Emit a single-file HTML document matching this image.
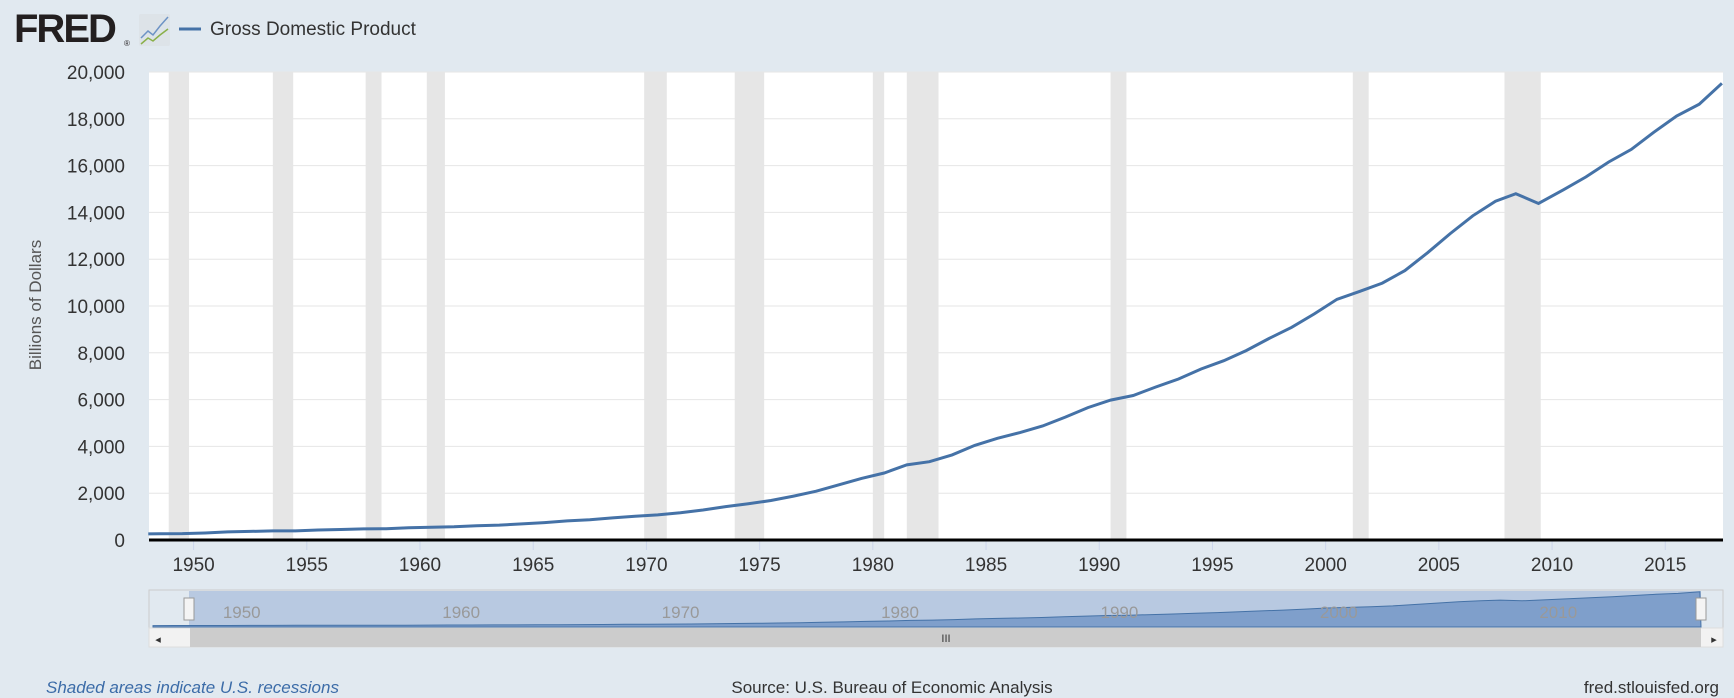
<!DOCTYPE html>
<html><head><meta charset="utf-8">
<style>
html,body{margin:0;padding:0;background:#e1e9f0;}
body{width:1734px;height:698px;overflow:hidden;position:relative;font-family:"Liberation Sans",sans-serif;}
svg{position:absolute;left:0;top:0;}
</style></head>
<body>
<svg id="c" width="1734" height="698">
  <g>
    <text x="14" y="42" font-size="40" font-weight="bold" fill="#231f20" letter-spacing="-2" font-family="Liberation Sans, sans-serif">FRED</text>
    <text x="124" y="46" font-size="8" fill="#231f20">®</text>
    <rect x="139" y="14" width="31" height="32" fill="#dde3e8" rx="2"/>
    <polyline points="141,38 148,31 153,35 160,26 168,17" fill="none" stroke="#6d93c5" stroke-width="1.5"/>
    <polyline points="141,44 148,38 153,41 160,35 168,29" fill="none" stroke="#8ab04a" stroke-width="1.5"/>
  </g>
  <g>
    <line x1="179" y1="29" x2="201" y2="29" stroke="#4572a7" stroke-width="3"/>
    <text x="210" y="35" font-size="19" fill="#333">Gross Domestic Product</text>
  </g>
  <rect x="149" y="72" width="1574" height="468" fill="#fff"/>
  <g id="rec"></g>
  <g id="grid"></g>
  <g id="ylab"></g>
  <g id="xlab"></g>
  <path id="line" fill="none" stroke="#4572a7" stroke-width="3"/>
  <line x1="149" y1="540" x2="1723" y2="540" stroke="#000" stroke-width="3"/>
  <text transform="translate(41,305) rotate(-90)" text-anchor="middle" font-size="17" fill="#555">Billions of Dollars</text>
  <g>
    <rect x="149" y="590" width="1574" height="38" fill="#e1e9f0" stroke="#ccc"/>
    <rect x="189" y="591" width="1512" height="37" fill="#b8c9e1"/>
    <path id="nav" fill="#7f9fcb" stroke="#4572a7" stroke-width="1"/>
    <g id="navlab"></g>
    <rect x="184" y="598" width="10" height="22" fill="#f4f4f4" stroke="#999"/>
    <rect x="1696" y="598" width="10" height="22" fill="#f4f4f4" stroke="#999"/>
    <rect x="149" y="628" width="1574" height="19" fill="#f2f2f2" stroke="#ddd"/>
    <rect x="190" y="628" width="1511" height="19" fill="#cccccc"/>
    <text x="946" y="642" font-size="11" fill="#333" text-anchor="middle">III</text>
    <text x="158" y="643" font-size="11" fill="#333" text-anchor="middle">◂</text>
    <text x="1714" y="643" font-size="11" fill="#333" text-anchor="middle">▸</text>
  </g>
  <text x="46" y="693" font-size="17" font-style="italic" fill="#3c6ca8">Shaded areas indicate U.S. recessions</text>
  <text x="892" y="693" font-size="17" fill="#333" text-anchor="middle">Source: U.S. Bureau of Economic Analysis</text>
  <text x="1719" y="693" font-size="17" fill="#333" text-anchor="end">fred.stlouisfed.org</text>
</svg>
<script>
const years=[1948.0,1948.5,1949.5,1950.5,1951.5,1952.5,1953.5,1954.5,1955.5,1956.5,1957.5,1958.5,1959.5,1960.5,1961.5,1962.5,1963.5,1964.5,1965.5,1966.5,1967.5,1968.5,1969.5,1970.5,1971.5,1972.5,1973.5,1974.5,1975.5,1976.5,1977.5,1978.5,1979.5,1980.5,1981.5,1982.5,1983.5,1984.5,1985.5,1986.5,1987.5,1988.5,1989.5,1990.5,1991.5,1992.5,1993.5,1994.5,1995.5,1996.5,1997.5,1998.5,1999.5,2000.5,2001.5,2002.5,2003.5,2004.5,2005.5,2006.5,2007.5,2008.4,2009.4,2010.5,2011.5,2012.5,2013.5,2014.5,2015.5,2016.5,2017.5];
const gdp=[262,270,272,300,347,367,389,391,426,449,474,482,522,543,563,605,638,686,744,815,862,943,1019,1073,1165,1280,1429,1548,1689,1878,2086,2357,2632,2863,3211,3345,3638,4041,4347,4590,4870,5253,5658,5980,6174,6539,6879,7309,7664,8100,8609,9089,9661,10285,10622,10978,11511,12275,13094,13856,14478,14800,14380,14964,15518,16155,16692,17428,18121,18625,19519];
const recStart=[1948.9,1953.5,1957.6,1960.3,1969.9,1973.9,1980.0,1981.5,1990.5,2001.2,2007.9];
const recEnd=[1949.8,1954.4,1958.3,1961.1,1970.9,1975.2,1980.5,1982.9,1991.2,2001.9,2009.5];
const yTicks=[0,2000,4000,6000,8000,10000,12000,14000,16000,18000,20000];
const xTicks=[1950,1955,1960,1965,1970,1975,1980,1985,1990,1995,2000,2005,2010,2015];
const navTicks=[1950,1960,1970,1980,1990,2000,2010];
const NS='http://www.w3.org/2000/svg';
const X0=149,X1=1723,T0=1948.03,T1=2017.55,Y0=540,Y1=72;
const x=t=>X0+(t-T0)/(T1-T0)*(X1-X0);
const y=v=>Y0-v/20000*(Y0-Y1);
const nx=t=>153+(t-1947)/(2017.55-1947)*(1701-153);
const ny=v=>626-v/20000*35;
function mk(tag,parent,attrs){const e=document.createElementNS(NS,tag);for(const k in attrs)e.setAttribute(k,attrs[k]);document.getElementById(parent).appendChild(e);return e;}
recStart.forEach((s,i)=>{const r=mk('rect','rec',{x:x(s),y:Y1,width:x(recEnd[i])-x(s),height:Y0-Y1,fill:'#e6e6e6'});

});
yTicks.forEach(v=>{const l=mk('line','grid',{x1:X0,x2:X1,y1:y(v),y2:y(v),stroke:'#e6e6e6','stroke-width':1});


const t=mk('text','ylab',{x:125,y:y(v)+7,'text-anchor':'end','font-size':19,fill:'#333'});t.textContent=v.toLocaleString('en-US');

});
xTicks.forEach(v=>{const l=mk('line','xlab',{x1:x(v),x2:x(v),y1:Y0,y2:Y0+10,stroke:'#ccd6eb'});


const t=mk('text','xlab',{x:x(v),y:571,'text-anchor':'middle','font-size':19,fill:'#333'});t.textContent=v;

});
navTicks.forEach(v=>{const t=mk('text','navlab',{x:nx(v)+4,y:618,'font-size':17,fill:'#999'});t.textContent=v;

});
document.getElementById('line').setAttribute('d',years.map((t,i)=>(i?'L':'M')+x(t).toFixed(1)+','+y(gdp[i]).toFixed(1)).join(''));
const nyrs=[1947].concat(years),ng=[244].concat(gdp);
document.getElementById('nav').setAttribute('d','M'+nx(1947)+',627'+nyrs.map((t,i)=>'L'+nx(t).toFixed(1)+','+ny(ng[i]).toFixed(1)).join('')+'L'+nx(2017.55)+',627Z');
</script>
</body></html>
